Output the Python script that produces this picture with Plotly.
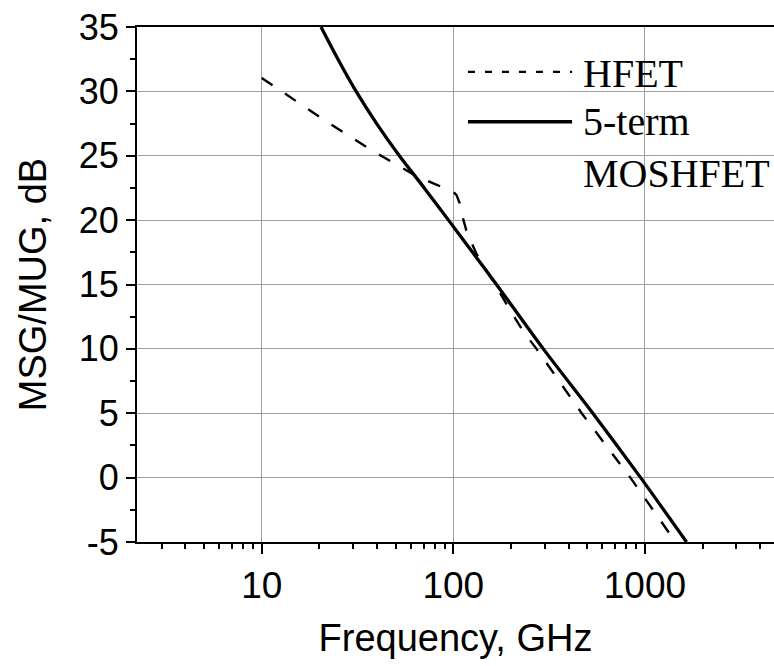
import plotly.graph_objects as go

# 5-term MOSHFET (solid)
mos_f = [20.4, 25.0, 31.1, 39.8, 52.3, 70.5, 94.4, 126.0, 168.0, 295.0, 535.0, 950.0, 1650.0]
mos_db = [35.0, 32.5, 30.0, 27.5, 25.0, 22.5, 20.0, 17.5, 15.0, 10.0, 5.0, 0.0, -5.0]

# HFET (dashed)
hfet_f = [10.0, 15.2, 20.4, 27.8, 37.5, 50.7, 61.7, 78.7, 90.6, 100.0, 104.0, 108.0,
          113.0, 117.0, 126.0, 133.0, 150.0, 168.0, 198.0, 232.0, 272.0, 468.0, 840.0, 1445.0]
hfet_db = [31.04, 29.2, 27.94, 26.65, 25.43, 24.3, 23.57, 22.85, 22.46, 22.2, 21.94, 21.3,
           20.0, 19.2, 18.06, 17.3, 16.0, 14.83, 13.0, 11.34, 10.0, 5.0, 0.0, -5.0]

x_tickvals = [10, 100, 1000]
x_ticktext = ["10", "100", "1000"]
y_tickvals = [-5, 0, 5, 10, 15, 20, 25, 30, 35]
y_ticktext = ["-5", "0", "5", "10", "15", "20", "25", "30", "35"]

series_names = ["HFET", "5-term", "MOSHFET"]

fig = go.Figure()
fig.add_trace(go.Scatter(x=hfet_f, y=hfet_db, mode="lines", name="HFET",
                         line=dict(color="black", width=2.4, dash="13px,15px"),
                         showlegend=False))
fig.add_trace(go.Scatter(x=mos_f, y=mos_db, mode="lines", name="5-term MOSHFET",
                         line=dict(color="black", width=3.3, shape="spline", smoothing=0.8),
                         showlegend=False))

sans = "Liberation Sans, Arial, sans-serif"
serif = "Liberation Serif, Times New Roman, serif"

fig.update_layout(
    width=774, height=666,
    margin=dict(l=137, r=0, t=27, b=124),
    paper_bgcolor="white", plot_bgcolor="white",
    font=dict(family=sans, color="black", size=37),
    showlegend=False,
    xaxis=dict(
        type="log", range=[0.349, 3.674],
        tickmode="array", tickvals=x_tickvals, ticktext=x_ticktext,
        ticks="outside", ticklen=10, tickwidth=2, tickcolor="black",
        showline=True, linecolor="black", linewidth=2, mirror=True,
        showgrid=True, gridcolor="#a0a0a0", gridwidth=1,
        zeroline=False,
        tickfont=dict(family=sans, size=37, color="black"),
        minor=dict(ticks="outside", ticklen=5, tickwidth=2, tickcolor="black",
                   dtick="D1", showgrid=False),
        title=dict(text="Frequency, GHz", font=dict(family=sans, size=38, color="black"),
                   standoff=19),
    ),
    yaxis=dict(
        range=[-5, 35],
        tickmode="array", tickvals=y_tickvals, ticktext=y_ticktext,
        ticks="outside", ticklen=9, tickwidth=2, tickcolor="black",
        showline=True, linecolor="black", linewidth=2, mirror=False,
        showgrid=True, gridcolor="#a0a0a0", gridwidth=1,
        zeroline=False,
        tickfont=dict(family=sans, size=36, color="black"),
        minor=dict(ticks="outside", ticklen=5, tickwidth=2, tickcolor="black",
                   dtick=2.5, tick0=0, showgrid=False),
        title=dict(text="MSG/MUG, dB", font=dict(family=sans, size=38, color="black"),
                   standoff=20),
    ),
)

# legend samples
fig.add_shape(type="line", xref="paper", yref="paper", x0=0.5196, x1=0.683, y0=0.913, y1=0.913,
              line=dict(color="black", width=2.2, dash="7px,10px"))
fig.add_shape(type="line", xref="paper", yref="paper", x0=0.5196, x1=0.683, y0=0.816, y1=0.816,
              line=dict(color="black", width=3.3))
for name, yp in zip(series_names, [0.910, 0.817, 0.716]):
    fig.add_annotation(text=name, xref="paper", yref="paper", x=0.697, y=yp,
                       xanchor="left", yanchor="middle", showarrow=False,
                       font=dict(family=serif, size=40, color="black"))

fig.write_html("out.html")
